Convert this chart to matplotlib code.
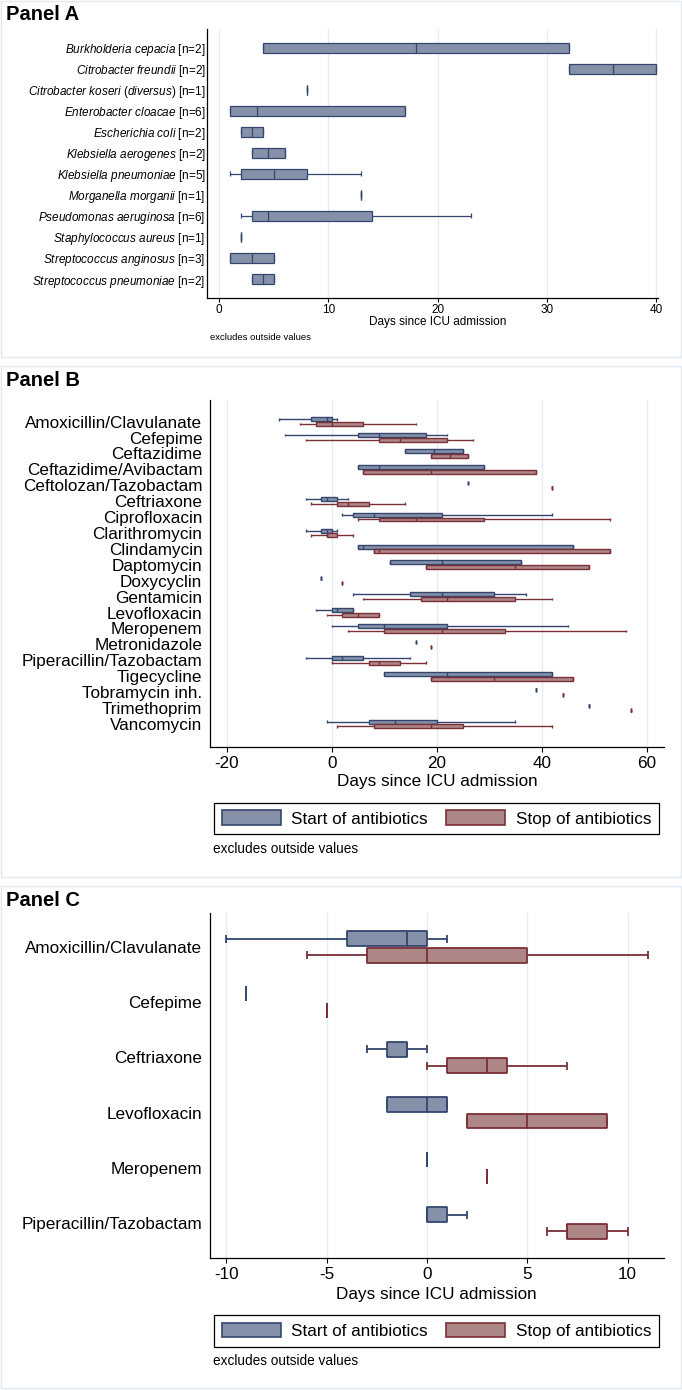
"""Box plots of organism detection and antibiotic start/stop days (three panels)."""
import matplotlib
matplotlib.use("Agg")
import matplotlib.pyplot as plt
from matplotlib.patches import Patch, Rectangle

plt.rcParams["font.family"] = ["Liberation Sans", "DejaVu Sans"]
plt.rcParams["mathtext.fontset"] = "custom"
plt.rcParams["mathtext.it"] = "Liberation Sans:italic"
plt.rcParams["mathtext.rm"] = "Liberation Sans"
plt.rcParams["axes.unicode_minus"] = False

W, H = 682, 1390  # output size in pixels (dpi 100)

BLUE_FACE, BLUE_EDGE = "#8491a9", "#34466e"
RED_FACE, RED_EDGE = "#ad8686", "#7b2f37"
GRID = "#e6ecf1"
BORDER = "#e1e8ed"

# ---------------- Panel A: organisms ----------------
organisms = [
    r"$\mathit{Burkholderia\ cepacia}$ [n=2]",
    r"$\mathit{Citrobacter\ freundii}$ [n=2]",
    r"$\mathit{Citrobacter\ koseri}$ ($\mathit{diversus}$) [n=1]",
    r"$\mathit{Enterobacter\ cloacae}$ [n=6]",
    r"$\mathit{Escherichia\ coli}$ [n=2]",
    r"$\mathit{Klebsiella\ aerogenes}$ [n=2]",
    r"$\mathit{Klebsiella\ pneumoniae}$ [n=5]",
    r"$\mathit{Morganella\ morganii}$ [n=1]",
    r"$\mathit{Pseudomonas\ aeruginosa}$ [n=6]",
    r"$\mathit{Staphylococcus\ aureus}$ [n=1]",
    r"$\mathit{Streptococcus\ anginosus}$ [n=3]",
    r"$\mathit{Streptococcus\ pneumoniae}$ [n=2]",
]
org_lo = [4, 32, 8, 1, 2, 3, 1, 13, 2, 2, 1, 3]
org_q1 = [4, 32, 8, 1, 2, 3, 2, 13, 3, 2, 1, 3]
org_med = [18, 36, 8, 3.5, 3, 4.5, 5, 13, 4.5, 2, 3, 4]
org_q3 = [32, 40, 8, 17, 4, 6, 8, 13, 14, 2, 5, 5]
org_hi = [32, 40, 8, 17, 4, 6, 13, 13, 23, 2, 5, 5]

# ---------------- Panel B: all antibiotics ----------------
drugs_b = [
    "Amoxicillin/Clavulanate", "Cefepime", "Ceftazidime", "Ceftazidime/Avibactam",
    "Ceftolozan/Tazobactam", "Ceftriaxone", "Ciprofloxacin", "Clarithromycin",
    "Clindamycin", "Daptomycin", "Doxycyclin", "Gentamicin", "Levofloxacin",
    "Meropenem", "Metronidazole", "Piperacillin/Tazobactam", "Tigecycline",
    "Tobramycin inh.", "Trimethoprim", "Vancomycin",
]
b_start_lo = [-10, -9, 14, 5, 26, -5, 2, -5, 5, 11, -2, 4, -3, 0, 16, -5, 10, 39, 49, -1]
b_start_q1 = [-4, 5, 14, 5, 26, -2, 4, -2, 5, 11, -2, 15, 0, 5, 16, 0, 10, 39, 49, 7]
b_start_med = [-1, 9, 19.5, 9, 26, -1, 8, -1, 6, 21, -2, 21, 1, 10, 16, 2, 22, 39, 49, 12]
b_start_q3 = [0, 18, 25, 29, 26, 1, 21, 0, 46, 36, -2, 31, 4, 22, 16, 6, 42, 39, 49, 20]
b_start_hi = [1, 22, 25, 29, 26, 3, 42, 1, 46, 36, -2, 37, 4, 45, 16, 15, 42, 39, 49, 35]

b_stop_lo = [-6, -5, 19, 6, 42, -4, 5, -4, 8, 18, 2, 6, -1, 3, 19, 0, 19, 44, 57, 1]
b_stop_q1 = [-3, 9, 19, 6, 42, 1, 9, -1, 8, 18, 2, 17, 2, 10, 19, 7, 19, 44, 57, 8]
b_stop_med = [0, 13, 22.5, 19, 42, 3, 16, -1, 9, 35, 2, 22, 5, 21, 19, 9, 31, 44, 57, 19]
b_stop_q3 = [6, 22, 26, 39, 42, 7, 29, 1, 53, 49, 2, 35, 9, 33, 19, 13, 46, 44, 57, 25]
b_stop_hi = [16, 27, 26, 39, 42, 14, 53, 4, 53, 49, 2, 42, 9, 56, 19, 18, 46, 44, 57, 42]

# ---------------- Panel C: subset ----------------
drugs_c = ["Amoxicillin/Clavulanate", "Cefepime", "Ceftriaxone",
           "Levofloxacin", "Meropenem", "Piperacillin/Tazobactam"]
c_start_lo = [-10, -9, -3, -2, 0, 0]
c_start_q1 = [-4, -9, -2, -2, 0, 0]
c_start_med = [-1, -9, -1, 0, 0, 0]
c_start_q3 = [0, -9, -1, 1, 0, 1]
c_start_hi = [1, -9, 0, 1, 0, 2]

c_stop_lo = [-6, -5, 0, 2, 3, 6]
c_stop_q1 = [-3, -5, 1, 2, 3, 7]
c_stop_med = [0, -5, 3, 5, 3, 7]
c_stop_q3 = [5, -5, 4, 9, 3, 9]
c_stop_hi = [11, -5, 7, 9, 3, 10]

legend_labels = ["Start of antibiotics", "Stop of antibiotics"]
note = "excludes outside values"
xlabel = "Days since ICU admission"


def box_stats(lo, q1, med, q3, hi):
    return [dict(whislo=a, q1=b, med=c, q3=d, whishi=e, fliers=[])
            for a, b, c, d, e in zip(lo, q1, med, q3, hi)]


def px_axes(fig, x0, y0, x1, y1):
    return fig.add_axes([x0 / W, 1 - y1 / H, (x1 - x0) / W, (y1 - y0) / H])


def draw_boxes(ax, stats, pos, width, cap, face, edge, lw):
    ax.bxp(stats, positions=pos, widths=width, capwidths=cap,
           orientation="horizontal", patch_artist=True, showfliers=False,
           manage_ticks=False,
           boxprops=dict(facecolor=face, edgecolor=edge, linewidth=lw,
                         joinstyle="bevel"),
           medianprops=dict(color=edge, linewidth=lw, solid_capstyle="butt"),
           whiskerprops=dict(color=edge, linewidth=lw, solid_capstyle="butt"),
           capprops=dict(color=edge, linewidth=lw, solid_capstyle="butt"))


def style_axes(ax, xlim, ylim, xticks, rows, labels, fs, ypad, tlen, tpad):
    ax.set_xlim(*xlim)
    ax.set_ylim(*ylim)
    ax.set_xticks(xticks)
    ax.set_yticks(rows)
    ax.set_yticklabels(labels, fontsize=fs)
    ax.tick_params(axis="y", length=0, pad=ypad)
    ax.tick_params(axis="x", labelsize=fs, length=tlen, pad=tpad, width=0.8)
    for s in ("top", "right"):
        ax.spines[s].set_visible(False)
    for s in ("left", "bottom"):
        ax.spines[s].set_linewidth(0.9)
    ax.grid(axis="x", color=GRID, lw=1.0)
    ax.set_axisbelow(True)


def panel_frame(fig, x0, y0, x1, y1, title, ty, tsize):
    fig.add_artist(Rectangle((x0 / W, 1 - y1 / H), (x1 - x0) / W, (y1 - y0) / H,
                             transform=fig.transFigure, fill=False,
                             edgecolor=BORDER, lw=1.0))
    fig.text(6 / W, 1 - ty / H, title, fontsize=tsize, fontweight="bold",
             ha="left", va="center")


fig = plt.figure(figsize=(W / 100, H / 100), dpi=100)

# ---- Panel A
panel_frame(fig, 1, 1, 681, 357, "Panel A", 15, 14.5)
axA = px_axes(fig, 207, 29, 657.5, 297.7)
rows_a = list(range(1, len(organisms) + 1))
draw_boxes(axA, box_stats(org_lo, org_q1, org_med, org_q3, org_hi),
           rows_a, 0.48, 0.24, BLUE_FACE, BLUE_EDGE, 0.9)
style_axes(axA, (-1.1, 40.1), (12.89, 0.1), [0, 10, 20, 30, 40],
           rows_a, organisms, 8.5, 1, 3, 1.5)
axA.set_xlabel(xlabel, fontsize=8.5)
axA.xaxis.set_label_coords(0.513, -0.09)
axA.xaxis.label.set_va("center")
fig.text(210 / W, 1 - 338 / H, note, fontsize=6.8, va="center")

# ---- Panel B
panel_frame(fig, 1, 366, 681, 877, "Panel B", 380, 14.5)
axB = px_axes(fig, 210, 400, 664, 746.7)
rows_b = list(range(1, len(drugs_b) + 1))
draw_boxes(axB, box_stats(b_start_lo, b_start_q1, b_start_med, b_start_q3, b_start_hi),
           [r - 0.15 for r in rows_b], 0.25, 0.16, BLUE_FACE, BLUE_EDGE, 1.0)
draw_boxes(axB, box_stats(b_stop_lo, b_stop_q1, b_stop_med, b_stop_q3, b_stop_hi),
           [r + 0.15 for r in rows_b], 0.25, 0.16, RED_FACE, RED_EDGE, 1.0)
style_axes(axB, (-23.2, 63.3), (21.43, -0.36), [-20, 0, 20, 40, 60],
           rows_b, drugs_b, 12.3, 5.5, 3.6, 3)
axB.set_xlabel(xlabel, fontsize=12.3)
axB.xaxis.set_label_coords(0.5, -0.101)
axB.xaxis.label.set_va("center")

# ---- Panel C
panel_frame(fig, 1, 886, 681, 1388, "Panel C", 900, 14.5)
axC = px_axes(fig, 209.6, 912.7, 664, 1258)
rows_c = list(range(1, len(drugs_c) + 1))
draw_boxes(axC, box_stats(c_start_lo, c_start_q1, c_start_med, c_start_q3, c_start_hi),
           [r - 0.15 for r in rows_c], 0.27, 0.15, BLUE_FACE, BLUE_EDGE, 1.3)
draw_boxes(axC, box_stats(c_stop_lo, c_stop_q1, c_stop_med, c_stop_q3, c_stop_hi),
           [r + 0.15 for r in rows_c], 0.27, 0.15, RED_FACE, RED_EDGE, 1.3)
style_axes(axC, (-10.84, 11.82), (6.63, 0.38), [-10, -5, 0, 5, 10],
           rows_c, drugs_c, 12.3, 5.5, 3.6, 3)
axC.set_xlabel(xlabel, fontsize=12.3)
axC.xaxis.set_label_coords(0.5, -0.107)
axC.xaxis.label.set_va("center")

# legends + notes for B and C
handles = [Patch(facecolor=BLUE_FACE, edgecolor=BLUE_EDGE, linewidth=1.2),
           Patch(facecolor=RED_FACE, edgecolor=RED_EDGE, linewidth=1.2)]
for cy, ny in ((818.5, 849), (1331, 1361)):
    leg = fig.legend(handles, legend_labels, loc="center",
                     bbox_to_anchor=(436.5 / W, 1 - cy / H), ncol=2,
                     fontsize=12.3, frameon=True, fancybox=False,
                     edgecolor="black", framealpha=1, handlelength=3.45,
                     handleheight=0.92, handletextpad=0.6, columnspacing=1.1,
                     borderpad=0.45)
    leg.get_frame().set_linewidth(0.9)
    fig.text(213 / W, 1 - ny / H, note, fontsize=9.8, va="center")

fig.savefig("out.png", dpi=100)
